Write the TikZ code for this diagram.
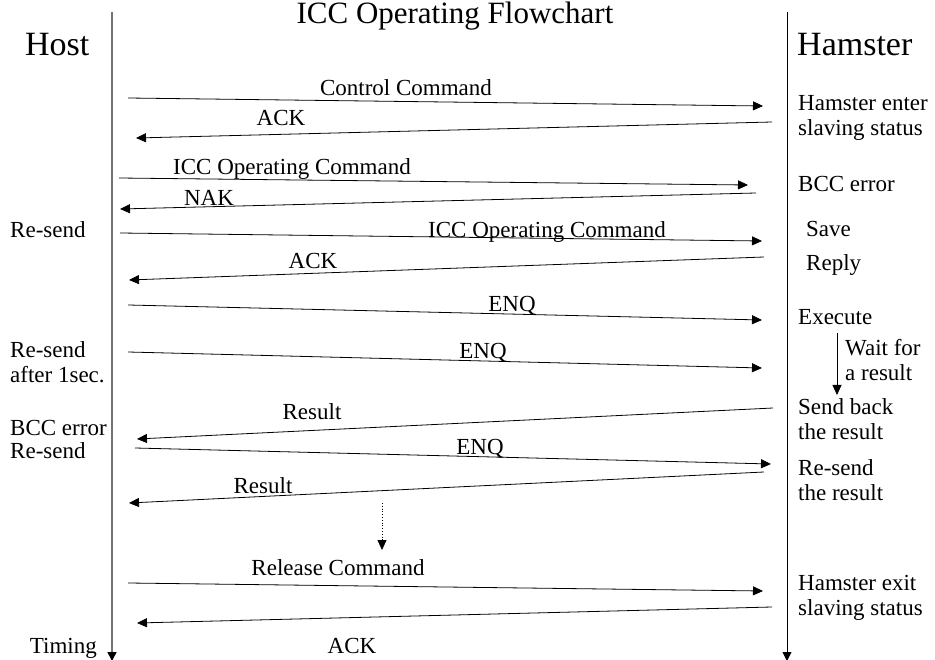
\documentclass[tikz,border=0pt]{standalone}
\usepackage{fontspec}
\setmainfont{Liberation Serif}
\usetikzlibrary{arrows.meta}

\begin{document}
\begin{tikzpicture}[x=1pt, y=-1pt,
  hostl/.style={draw=black!55, line width=1.6pt, -{Triangle[length=9pt, width=9pt, color=black]}},
  haml/.style={draw=black, line width=0.9pt, -{Triangle[length=9pt, width=9pt]}},
  msg/.style={draw, line width=0.8pt, -{Triangle[length=10pt, width=9pt]}},
  lbl/.style={font=\fontsize{23}{25}\selectfont, inner sep=0pt},
  note/.style={lbl, align=left, anchor=north west},
  head/.style={font=\fontsize{34}{38}\selectfont, inner sep=0pt},
]
\useasboundingbox (0,0) rectangle (935,660);

% Title and parties
\node[head, font=\fontsize{31}{34}\selectfont, anchor=north] (title) at (455,2) {ICC Operating Flowchart};
\node[head, anchor=west] (host) at (25,45) {Host};
\node[head, anchor=west] (ham)  at (797,45) {Hamster};

% Lifelines
\coordinate (host_t) at (112,12);
\coordinate (host_b) at (112,661);
\coordinate (ham_t)  at (787,12);
\coordinate (ham_b)  at (787,661);
\draw[hostl] (host_t) -- (host_b);
\draw[haml]  (ham_t) -- (ham_b);

% Message end points
\coordinate (ctrl_h) at (128,98);  \coordinate (ctrl_k) at (763,106);
\coordinate (ack1_k) at (772,122); \coordinate (ack1_h) at (136,138);
\coordinate (icc1_h) at (119,178); \coordinate (icc1_k) at (748,185);
\coordinate (nak_k)  at (756,193); \coordinate (nak_h)  at (120,209);
\coordinate (icc2_h) at (120,233); \coordinate (icc2_k) at (762,241);
\coordinate (ack2_k) at (764,257); \coordinate (ack2_h) at (129,280);
\coordinate (enq1_h) at (128,305); \coordinate (enq1_k) at (762,320);
\coordinate (enq2_h) at (128,352); \coordinate (enq2_k) at (762,368);
\coordinate (res1_k) at (773,408); \coordinate (res1_h) at (137,439);
\coordinate (enq3_h) at (135,448); \coordinate (enq3_k) at (771,464);
\coordinate (res2_k) at (764,472); \coordinate (res2_h) at (129,503);
\coordinate (rel_h)  at (128,583); \coordinate (rel_k)  at (763,591);
\coordinate (ack3_k) at (772,607); \coordinate (ack3_h) at (137,623);

% Messages
\draw[msg] (ctrl_h) -- (ctrl_k);
\draw[msg] (ack1_k) -- (ack1_h);
\draw[msg] (icc1_h) -- (icc1_k);
\draw[msg] (nak_k)  -- (nak_h);
\draw[msg] (icc2_h) -- (icc2_k);
\draw[msg] (ack2_k) -- (ack2_h);
\draw[msg] (enq1_h) -- (enq1_k);
\draw[msg] (enq2_h) -- (enq2_k);
\draw[msg] (res1_k) -- (res1_h);
\draw[msg] (enq3_h) -- (enq3_k);
\draw[msg] (res2_k) -- (res2_h);
\draw[msg] (rel_h)  -- (rel_k);
\draw[msg] (ack3_k) -- (ack3_h);

% Message labels
\node[lbl, anchor=base] (ctrl_l) at (406,96)  {Control Command};
\node[lbl, anchor=base] (ack1_l) at (281,126) {ACK};
\node[lbl, anchor=base] (icc1_l) at (292,175) {ICC Operating Command};
\node[lbl, anchor=base] (nak_l)  at (209,206) {NAK};
\node[lbl, anchor=base] (icc2_l) at (547,238) {ICC Operating Command};
\node[lbl, anchor=base] (ack2_l) at (313,269) {ACK};
\node[lbl, anchor=base] (enq1_l) at (512,312) {ENQ};
\node[lbl, anchor=base] (enq2_l) at (483,359) {ENQ};
\node[lbl, anchor=base] (res1_l) at (312,420) {Result};
\node[lbl, anchor=base] (enq3_l) at (480,454) {ENQ};
\node[lbl, anchor=base] (res2_l) at (263,493) {Result};
\node[lbl, anchor=base] (rel_l)  at (338,575) {Release Command};
\node[lbl, anchor=base] (ack3_l) at (352,653) {ACK};

% Waiting on the host side
\coordinate (gap_t) at (382,503);
\coordinate (gap_b) at (382,550);
\draw[msg, dotted] (gap_t) -- (gap_b);

% Host notes
\node[note] (rs1)  at (10,221) {Re-send};
\node[note] (rs2)  at (10,341) {Re-send\\after 1sec.};
\node[note, font=\fontsize{23}{23}\selectfont] (bcc_h) at (10,420) {BCC error\\Re-send};
\node[lbl, anchor=base east] (timing) at (97,653) {Timing};

% Hamster notes
\node[note] (enter) at (798,95)  {Hamster enter\\slaving status};
\node[note] (bcc_k) at (798,176) {BCC error};
\node[note] (save)  at (806,221) {Save};
\node[note] (reply) at (806,254) {Reply};
\node[note] (exec)  at (798,309) {Execute};
\node[note] (wait)  at (845,339) {Wait for\\a result};
\node[note] (back)  at (798,398) {Send back\\the result};
\node[note] (again) at (798,459) {Re-send\\the result};
\node[note] (exit)  at (798,575) {Hamster exit\\slaving status};

% Wait arrow
\coordinate (wait_t) at (837,333);
\coordinate (wait_b) at (837,395);
\draw[msg] (wait_t) -- (wait_b);
\end{tikzpicture}
\end{document}
